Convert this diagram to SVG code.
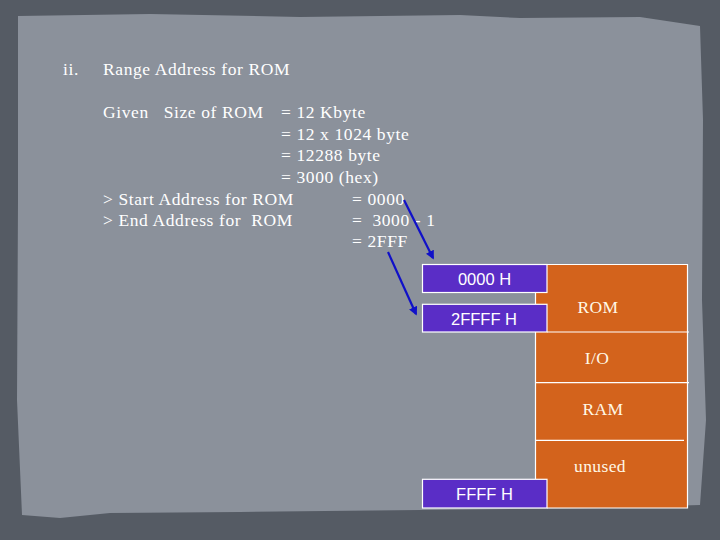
<svg xmlns="http://www.w3.org/2000/svg" width="720" height="540" viewBox="0 0 720 540">
<defs>
<style>
.t{font-family:"Liberation Serif","DejaVu Serif",serif;font-size:17.5px;letter-spacing:0.6px;fill:#ffffff}
.m{font-family:"Liberation Serif","DejaVu Serif",serif;font-size:17.5px;letter-spacing:0.4px;fill:#fff8e6}
.b{font-family:"Liberation Sans",Arial,sans-serif;font-size:16.5px;fill:#ffffff}
.box{fill:#5a2dc6;stroke:#ffffff;stroke-width:1.2}
.seg{fill:#d3631c;stroke:none}
.ln{stroke:#ffffff;stroke-width:1.2;fill:none}
.arr{stroke:#1010c8;stroke-width:2.2;fill:none;marker-end:url(#ah)}
</style>
<marker id="ah" viewBox="0 0 10 10" refX="8" refY="5" markerWidth="4" markerHeight="4" orient="auto">
<path d="M0,0 L10,5 L0,10 z" fill="#1010c8"/>
</marker>
</defs>
<g id="background">
<rect x="0" y="0" width="720" height="540" fill="#555b64"/>
<path d="M18,16 L150,14 L300,17 L460,15 L520,18 L640,17 L700,26 L703,120 L702,300 L706,420 L700,505 L600,508 L420,510 L240,512 L110,513 L60,518 L22,515 L17,400 L18,200 Z" fill="#8b919b"/>
</g>
<g id="text-block">
<text class="t" x="63" y="75">ii.</text>
<text class="t" x="103" y="75">Range Address for ROM</text>
<text class="t" x="103" y="118" xml:space="preserve">Given   Size of ROM</text>
<text class="t" x="281" y="118">= 12 Kbyte</text>
<text class="t" x="281" y="140">= 12 x 1024 byte</text>
<text class="t" x="281" y="161">= 12288 byte</text>
<text class="t" x="281" y="183">= 3000 (hex)</text>
<text class="t" x="103" y="205">&gt; Start Address for ROM</text>
<text class="t" x="352" y="205">= 0000</text>
<text class="t" x="103" y="226" xml:space="preserve">&gt; End Address for  ROM</text>
<text class="t" x="352" y="226" xml:space="preserve">=  3000 - 1</text>
<text class="t" x="352" y="247">= 2FFF</text>
</g>
<g id="memory-map">
<rect class="seg" x="535.5" y="264.5" width="152" height="243.5"/>
<path class="ln" d="M547,264.5 H687.5 V508 H547"/>
<line class="ln" x1="535.5" y1="292" x2="535.5" y2="304"/>
<line class="ln" x1="535.5" y1="332" x2="535.5" y2="479"/>
<line class="ln" x1="547" y1="332" x2="689" y2="332"/>
<line class="ln" x1="535.5" y1="382.7" x2="689" y2="382.7"/>
<line class="ln" x1="535.5" y1="440.3" x2="684" y2="440.3"/>
<text class="m" x="598" y="313" text-anchor="middle">ROM</text>
<text class="m" x="597" y="364" text-anchor="middle">I/O</text>
<text class="m" x="603" y="415" text-anchor="middle">RAM</text>
<text class="m" x="600" y="472" text-anchor="middle" letter-spacing="0.8">unused</text>
</g>
<g id="addr-0000">
<rect class="box" x="422.5" y="264.5" width="124.5" height="28"/>
<text class="b" x="484.5" y="284.5" text-anchor="middle">0000 H</text>
</g>
<g id="addr-2FFFF">
<rect class="box" x="422.5" y="304.3" width="124.5" height="27.7"/>
<text class="b" x="484" y="324.5" text-anchor="middle">2FFFF H</text>
</g>
<g id="addr-FFFF">
<rect class="box" x="422.5" y="479.3" width="124.5" height="28.7"/>
<text class="b" x="484.5" y="500" text-anchor="middle">FFFF H</text>
</g>
<g id="connectors">
<line class="arr" x1="404" y1="200" x2="433" y2="258"/>
<line class="arr" x1="388" y1="252" x2="416" y2="314"/>
</g>
</svg>
